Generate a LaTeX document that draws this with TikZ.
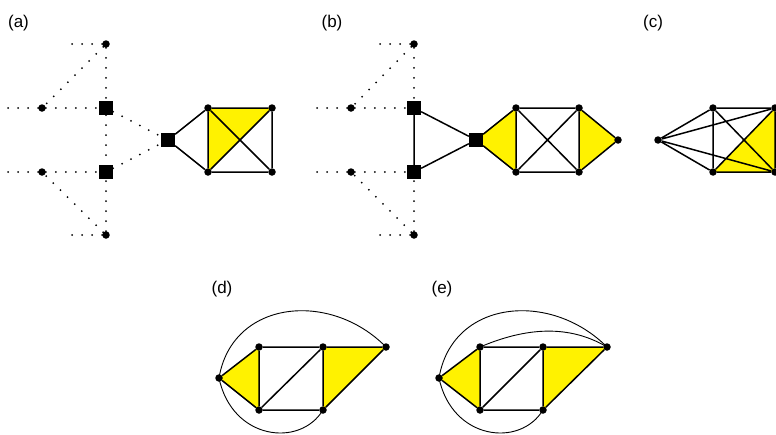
\documentclass[tikz,border=0pt]{standalone}
\usepackage{fontspec}
\setmainfont{Liberation Sans}
\usetikzlibrary{backgrounds}
\tikzset{
  vdot/.style={circle,fill=black,inner sep=0pt,minimum size=7.5pt},
  vsq/.style={rectangle,fill=black,inner sep=0pt,minimum size=14pt},
  edge/.style={line width=1.5pt},
  dotline/.style={line width=2pt,dash pattern=on 0pt off 10pt,line cap=round},
  arcline/.style={line width=0.9pt},
  tri/.style={fill=yellow},
  lab/.style={font=\fontsize{17}{19}\selectfont,inner sep=0pt}
}
\begin{document}
\begin{tikzpicture}[x=1pt,y=-1pt]
\useasboundingbox (0,0) rectangle (776,434);
\clip (0,0) rectangle (776,434);
% labels
\node[lab] (la) at (18.5,23) {(a)};
\node[lab] (lb) at (332,23) {(b)};
\node[lab] (lc) at (653,23) {(c)};
\node[lab] (ld) at (222,289) {(d)};
\node[lab] (le) at (442,289) {(e)};

% ---------- (a) ----------
\node[vdot] (aT) at (106,44) {};
\node[vdot] (aB) at (106,235) {};
\node[vdot] (aL1) at (42,108) {};
\node[vdot] (aL2) at (42,172) {};
\node[vsq] (aS1) at (106,108) {};
\node[vsq] (aS2) at (106,172) {};
\node[vsq] (aS3) at (168,140) {};
\node[vdot] (aTL) at (208,108) {};
\node[vdot] (aTR) at (272,108) {};
\node[vdot] (aBL) at (208,172) {};
\node[vdot] (aBR) at (272,172) {};
\coordinate (aTf) at (72,44);
\coordinate (aBf) at (72,235);
\coordinate (aL1f) at (8,108);
\coordinate (aL2f) at (8,172);
\begin{pgfonlayer}{background}
\fill[tri] (aTL.center) -- (aTR.center) -- (aBL.center) -- cycle;
\end{pgfonlayer}
\draw[dotline] (aT) -- (aTf) (aB) -- (aBf) (aL1) -- (aL1f) (aL2) -- (aL2f)
  (aT) -- (aL1) (aT) -- (aS1) (aL1) -- (aS1) (aS1) -- (aS2) (aS1) -- (aS3)
  (aS2) -- (aS3) (aL2) -- (aS2) (aB) -- (aL2) (aB) -- (aS2);
\draw[edge] (aS3) -- (aTL) (aS3) -- (aBL) (aTL) -- (aTR) (aBL) -- (aBR)
  (aTL) -- (aBL) (aTR) -- (aBR) (aTL) -- (aBR) (aTR) -- (aBL);

% ---------- (b) ----------
\node[vdot] (bT) at (414,44) {};
\node[vdot] (bB) at (414,235) {};
\node[vdot] (bL1) at (351,108) {};
\node[vdot] (bL2) at (351,172) {};
\node[vsq] (bS1) at (414,108) {};
\node[vsq] (bS2) at (414,172) {};
\node[vsq] (bS3) at (476,140) {};
\node[vdot] (bTL) at (516,108) {};
\node[vdot] (bTR) at (579,108) {};
\node[vdot] (bBL) at (516,172) {};
\node[vdot] (bBR) at (579,172) {};
\node[vdot] (bR) at (618,140) {};
\coordinate (bTf) at (380,44);
\coordinate (bBf) at (380,235);
\coordinate (bL1f) at (317,108);
\coordinate (bL2f) at (317,172);
\begin{pgfonlayer}{background}
\fill[tri] (bS3.center) -- (bTL.center) -- (bBL.center) -- cycle;
\fill[tri] (bTR.center) -- (bR.center) -- (bBR.center) -- cycle;
\end{pgfonlayer}
\draw[dotline] (bT) -- (bTf) (bB) -- (bBf) (bL1) -- (bL1f) (bL2) -- (bL2f)
  (bT) -- (bL1) (bT) -- (bS1) (bL1) -- (bS1)
  (bL2) -- (bS2) (bB) -- (bL2) (bB) -- (bS2);
\draw[edge] (bS1) -- (bS2) (bS1) -- (bS3) (bS2) -- (bS3)
  (bS3) -- (bTL) (bS3) -- (bBL) (bTL) -- (bTR) (bBL) -- (bBR)
  (bTL) -- (bBL) (bTR) -- (bBR) (bTL) -- (bBR) (bTR) -- (bBL)
  (bTR) -- (bR) (bBR) -- (bR);

% ---------- (c) ----------
\node[vdot] (cL) at (658,140) {};
\node[vdot] (cTL) at (713,108) {};
\node[vdot] (cBL) at (713,172) {};
\node[vdot] (cTR) at (775,108) {};
\node[vdot] (cBR) at (775,172) {};
\begin{pgfonlayer}{background}
\fill[tri] (cBL.center) -- (cTR.center) -- (cBR.center) -- cycle;
\end{pgfonlayer}
\draw[edge] (cL) -- (cTL) (cL) -- (cBL) (cL) -- (cTR) (cL) -- (cBR)
  (cTL) -- (cTR) (cBL) -- (cBR) (cTL) -- (cBL) (cTR) -- (cBR)
  (cTL) -- (cBR) (cBL) -- (cTR);

% ---------- (d) ----------
\node[vdot] (dL) at (219,378) {};
\node[vdot] (dA) at (259,347) {};
\node[vdot] (dB) at (259,410) {};
\node[vdot] (dC) at (323,347) {};
\node[vdot] (dD) at (323,410) {};
\node[vdot] (dR) at (386,347) {};
\begin{pgfonlayer}{background}
\fill[tri] (dL.center) -- (dA.center) -- (dB.center) -- cycle;
\fill[tri] (dC.center) -- (dR.center) -- (dD.center) -- cycle;
\end{pgfonlayer}
\draw[edge] (dL) -- (dA) (dL) -- (dB) (dA) -- (dB) (dA) -- (dC) (dB) -- (dD)
  (dC) -- (dD) (dB) -- (dC) (dC) -- (dR) (dD) -- (dR);
\draw[arcline] (dL.center) .. controls (232,300) and (330,290) .. (dR.center);
\draw[arcline] (dL.center) .. controls (232,440) and (300,448) .. (dD.center);

% ---------- (e) ----------
\node[vdot] (eL) at (439,378) {};
\node[vdot] (eA) at (480,347) {};
\node[vdot] (eB) at (480,410) {};
\node[vdot] (eC) at (543,347) {};
\node[vdot] (eD) at (543,410) {};
\node[vdot] (eR) at (607,347) {};
\begin{pgfonlayer}{background}
\fill[tri] (eL.center) -- (eA.center) -- (eB.center) -- cycle;
\fill[tri] (eC.center) -- (eR.center) -- (eD.center) -- cycle;
\end{pgfonlayer}
\draw[edge] (eL) -- (eA) (eL) -- (eB) (eA) -- (eB) (eA) -- (eC) (eB) -- (eD)
  (eC) -- (eD) (eB) -- (eC) (eC) -- (eR) (eD) -- (eR);
\draw[arcline] (eL.center) .. controls (452,300) and (550,290) .. (eR.center);
\draw[arcline] (eL.center) .. controls (452,440) and (520,448) .. (eD.center);
\draw[arcline] (eA.center) .. controls (520,330) and (565,322) .. (eR.center);
\end{tikzpicture}
\end{document}
